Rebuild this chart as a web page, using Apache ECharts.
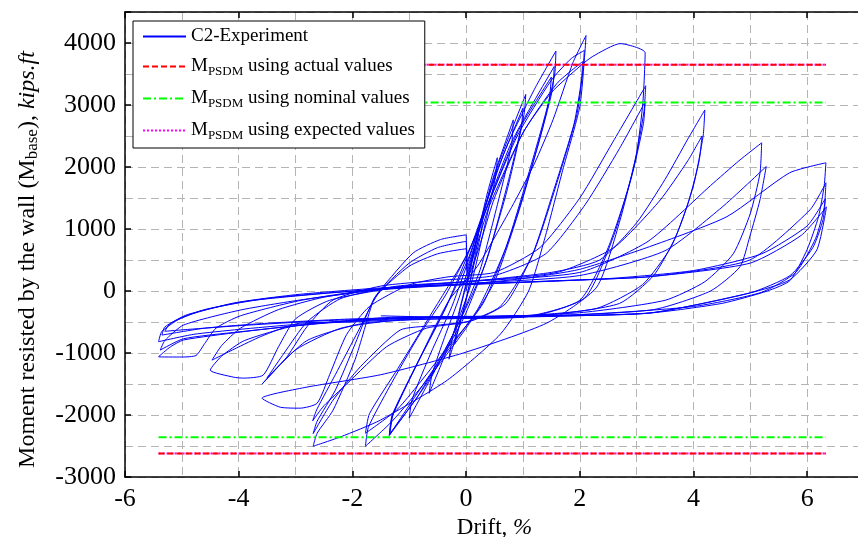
<!DOCTYPE html>
<html>
<head>
<meta charset="utf-8">
<script src="https://cdn.jsdelivr.net/npm/echarts@6/dist/echarts.min.js"></script>
<style>
  html, body { margin: 0; padding: 0; background: #fff; }
  #chart { width: 858px; height: 537px; }
</style>
</head>
<body>
<div id="chart"></div>
<script>
// drift (%) , moment (kips.ft), in loading order
var elasticLoops = [[0,0],[0.08,350],[0.16,700],[0.22,950],[0.2,780],[0.1,300],[0,-150],[-0.1,-500],[-0.2,-850],[-0.18,-650],[-0.08,-200],[0.02,150],
  [0.14,650],[0.3,1250],[0.27,980],[0.12,350],[-0.02,-200],[-0.15,-650],[-0.3,-1100],[-0.26,-850],[-0.1,-250],[0.02,200]];

var loopsTo105 = [[0.2,900],[0.38,1600],[0.55,2150],[0.52,1850],[0.34,1100],[0.1,150],[-0.15,-500],[-0.4,-1100],[-0.65,-1650],[-0.6,-1350],[-0.38,-750],[-0.12,-100],
  [0.15,700],[0.45,1750],[0.83,2760],[0.8,2350],[0.58,1500],[0.25,350],[-0.1,-450],[-0.5,-1200],[-1.0,-2050],[-0.95,-1750],[-0.62,-1000],[-0.25,-250],
  [0.1,650],[0.55,2000],[1.05,3170],[1.02,2850],[0.75,1800],[0.38,550],[-0.05,-450],[-0.7,-1500],[-1.35,-2330],[-1.3,-2030],[-0.9,-1250],[-0.4,-350],
  [0.05,550],[0.55,1950],[1.0,2950],[0.97,2620],[0.7,1550],[0.3,350],[-0.2,-650],[-0.85,-1700],[-1.34,-2300],[-1.28,-1980],[-0.85,-1150],[-0.35,-250]];

var loops158 = [[0.1,750],[0.7,2300],[1.2,3250],[1.58,3870],[1.56,3500],[1.35,2650],[0.95,1350],[0.5,150],[0.0,-600],[-0.7,-1450],[-1.3,-2100],[-1.77,-2504],[-1.72,-2200],[-1.35,-1550],[-0.85,-750],[-0.35,-50],
  [0.15,850],[0.8,2400],[1.55,3620],[1.52,3250],[1.25,2300],[0.8,950],[0.3,-200],[-0.4,-1000],[-1.2,-1900],[-1.77,-2294],[-1.7,-1980],[-1.2,-1250],[-0.6,-350],
  [0.05,650],[0.9,2550],[1.5,3450],[1.46,3080],[1.15,2050],[0.7,700],[0.2,-300],[-0.6,-1300],[-1.35,-2326],[-1.3,-2000],[-0.85,-1150],[-0.3,-150]];

var loops210 = [[0.2,400],[0.8,1350],[1.2,2050],[1.53,2763],[1.88,3683],[2.11,4120],[2.09,3845],[2.0,2973],[1.7,1950],[1.4,900],[1.1,0],[0.6,-700],[-0.33,-1438],[-1.51,-2084],[-2.2,-2350],[-2.69,-2504],[-2.62,-2294],[-2.34,-1922],[-1.95,-1100],[-1.63,-145],[-1.51,16],[-0.93,614],[-0.45,830],[0,905],[0.01,350],
  [0.35,1300],[0.9,2500],[1.5,3400],[1.85,3750],[2.08,3880],[2.06,3600],[1.95,2850],[1.6,1750],[1.2,650],[0.7,-200],[0.1,-480],[-0.6,-560],[-1.16,-630],[-1.86,-1222],[-2.34,-1761],[-2.69,-2300],[-2.62,-2100],[-2.3,-1600],[-1.95,-850],[-1.6,-100],[-1.0,450],[-0.5,700],[0,800],[0.02,300],
  [0.4,1350],[1.0,2550],[1.6,3350],[2.05,3700],[2.03,3400],[1.9,2700],[1.55,1650],[1.15,550],[0.6,-250],[0.0,-500],[-0.7,-600],[-1.4,-900],[-2.1,-1500],[-2.5,-1850],[-2.7,-2095],[-2.62,-1900],[-2.3,-1350],[-1.9,-650],[-1.55,-50],[-1.0,400],[-0.5,600],[0,680],[0.03,250]];

var loops315 = [[0.5,1500],[1.0,2550],[1.5,3200],[2.0,3623],[2.23,3785],[2.71,3990],[3.15,3840],[3.11,3037],[3.0,2230],[2.71,1147],[2.3,65],[1.42,-517],[-0.05,-1000],[-1.5,-1350],[-2.8,-1550],[-3.59,-1729],[-3.27,-1874],[-2.92,-1890],[-2.62,-1810],[-2.4,-1350],[-2.1,-700],[-1.7,-250],[-1.0,100],[-0.3,230],
  [0.5,300],[1.3,700],[2.0,1500],[2.58,2400],[3.16,3310],[3.13,2900],[2.95,2000],[2.6,900],[2.1,-100],[1.2,-400],[0,-440],[-1.2,-470],[-2.2,-600],[-3.0,-950],[-3.59,-1502],[-3.15,-1061],[-2.8,-577],[-2.34,-145],[-1.5,80],[-0.5,170],
  [0.5,250],[1.4,600],[2.1,1400],[2.7,2300],[3.15,3050],[3.12,2700],[2.9,1800],[2.5,700],[2.0,-150],[1.0,-420],[-0.5,-450],[-1.8,-520],[-2.8,-800],[-3.5,-1400],[-3.2,-1000],[-2.8,-500],[-2.2,-120],[-1.2,80]];

var loops420 = [[0,150],[1.5,300],[2.35,500],[3.0,1100],[3.5,1800],[3.9,2450],[4.2,2920],[4.17,2500],[4.0,1700],[3.7,900],[3.3,250],[2.7,-200],[1.5,-380],[0,-420],[-1.5,-450],[-3.0,-560],[-3.9,-800],[-4.3,-1050],[-4.5,-1276],[-4.09,-1390],[-3.92,-1405],[-3.57,-1357],[-3.3,-900],[-3.0,-450],[-2.4,-150],[-1.2,60],
  [0,150],[1.6,300],[2.6,700],[3.4,1450],[3.9,2100],[4.15,2500],[4.1,2100],[3.9,1400],[3.6,700],[3.1,100],[2.3,-280],[1,-400],[-0.5,-430],[-2,-500],[-2.92,-517],[-3.62,-738],[-4.47,-1115],[-4.3,-880],[-3.97,-600],[-3.3,-300],[-2.5,-100],[-1.3,60]];

var loops520 = [[0,150],[2,300],[3.2,800],[4.3,1700],[4.8,2100],[5.2,2390],[5.17,1900],[5.0,1250],[4.7,600],[4.2,150],[3.5,-150],[2,-350],[0,-420],[-1.16,-420],[-3,-560],[-3.97,-662],[-4.97,-790],[-5.2,-900],[-5.41,-1061],[-5.0,-1065],[-4.75,-1040],[-4.6,-850],[-4.4,-600],[-3.97,-400],[-2.9,-150],[-1.5,40],
  [0,120],[2,250],[3.5,650],[4.5,1350],[5.28,2008],[5.17,1470],[4.99,877],[4.82,393],[4.3,0],[3.3,-300],[1.5,-400],[-0.5,-420],[-2.5,-520],[-4,-660],[-4.97,-770],[-5.38,-953],[-5.3,-800],[-4.97,-549],[-3.97,-307],[-2.92,-145],[-1.5,20],[0,110]];

var loops630 = [[1,200],[2,350],[3.23,716],[4.59,1200],[5.69,1906],[6.33,2068],[6.3,1700],[6.2,1200],[6.0,670],[5.7,170],[5.3,0],[4.5,-200],[3.23,-355],[1,-420],[-1,-430],[-3,-540],[-4,-620],[-4.8,-700],[-5.41,-818],[-5.35,-650],[-4.97,-415],[-4.09,-194],[-3,-60],[-1.5,50],
  [0,110],[2,180],[3.23,231],[4.99,500],[6.05,1309],[6.33,1745],[6.3,1350],[6.15,850],[5.8,300],[5.2,-20],[4,-250],[2,-380],[0,-410],[-2,-450],[-3.5,-520],[-4.6,-600],[-5.35,-711],[-5.3,-580],[-4.9,-380],[-3.9,-170],[-2.5,-40],[-1,60],
  [0.5,120],[2.5,200],[4,330],[5.2,600],[6.0,1050],[6.32,1490],[6.28,1150],[6.1,700],[5.7,250],[5,-30],[3.23,-355],[1.5,-400],[-0.5,-420],[-2.5,-480],[-4,-560],[-4.9,-620],[-5.3,-650],[-5.2,-520],[-4.6,-300],[-3.5,-120],[-2,0],[-0.5,90],
  [1.5,160],[3.23,231],[5,450],[5.9,900],[6.34,1357],[6.17,662],[5.69,178],[4.99,-32],[3.23,-355],[1,-410],[-0.5,-420],[-1.5,-400]];

// M_PSDM levels
var refDrift = [-5.41, 6.33];
var actualLevels = [3650, -2620];
var nominalLevels = [3040, -2360];
var expectedLevels = [3650, -2620];

var serif = 'Liberation Serif';

var experiment = [].concat(elasticLoops, loopsTo105, loops158, loops210, loops315, loops420, loops520, loops630);

function levelLine(level) {
    return refDrift.map(function (d) { return [d, level]; });
}

function refSeries(name, levels, color, type, z) {
    return levels.map(function (lv) {
        return {
            name: name,
            type: 'line',
            data: levelLine(lv),
            symbol: 'none',
            z: z,
            lineStyle: { color: color, width: 2, type: type },
            itemStyle: { color: color },
            animation: false
        };
    });
}

var myChart = echarts.init(document.getElementById('chart'));

// helper axes: only their dashed split lines are shown
var gridAxisX = {
    type: 'value', min: -6, max: 7, interval: 1, position: 'bottom',
    axisLine: { show: false }, axisTick: { show: false }, axisLabel: { show: false },
    splitLine: { show: true, lineStyle: { color: '#b4b4b4', type: [8, 5], width: 1 } }
};
var gridAxisY = {
    type: 'value', min: -3000, max: 4500, interval: 500, position: 'left',
    axisLine: { show: false }, axisTick: { show: false }, axisLabel: { show: false },
    splitLine: { show: true, lineStyle: { color: '#b4b4b4', type: [8, 5], width: 1 } }
};

var option = {
    backgroundColor: '#fff',
    animation: false,
    grid: { left: 125, top: 12, width: 739, height: 465, outerBoundsMode: 'none', containLabel: false },
    legend: {
        orient: 'vertical',
        left: 133,
        top: 21,
        padding: [6, 10, 6, 9],
        itemGap: 11,
        itemWidth: 43,
        itemHeight: 14,
        backgroundColor: '#fff',
        borderColor: '#000',
        borderWidth: 1,
        borderRadius: 0,
        itemStyle: { opacity: 0, borderWidth: 0 },
        data: ['C2-Experiment', 'actual', 'nominal', 'expected'],
        formatter: function (name) {
            if (name === 'C2-Experiment') return name;
            return 'M{sub|PSDM} using ' + name + ' values';
        },
        textStyle: {
            fontFamily: serif, fontSize: 19, color: '#000',
            rich: {
                sub: { fontFamily: serif, fontSize: 13, color: '#000', padding: [10, 0, 0, 0] }
            }
        }
    },
    xAxis: [{
        type: 'value', min: -6, max: 7, interval: 2, position: 'bottom',
        name: 'Drift, {it|%}',
        nameLocation: 'middle',
        nameGap: 27,
        nameTextStyle: {
            fontFamily: serif, fontSize: 23, color: '#000',
            rich: { it: { fontFamily: serif, fontSize: 23, fontStyle: 'italic', color: '#000' } }
        },
        axisLine: { onZero: false, lineStyle: { color: '#000', width: 1.5 } },
        axisTick: { inside: true, length: 6, lineStyle: { color: '#000', width: 1.5 } },
        axisLabel: { fontFamily: serif, fontSize: 26, color: '#000', margin: 9, formatter: function (v) { return v > 6 ? '' : String(v); } },
        splitLine: { show: false }
    }, {
        type: 'value', min: -6, max: 7, interval: 2, position: 'top',
        axisLine: { onZero: false, lineStyle: { color: '#000', width: 1.5 } },
        axisTick: { inside: true, length: 6, lineStyle: { color: '#000', width: 1.5 } },
        axisLabel: { show: false },
        splitLine: { show: false }
    }, gridAxisX],
    yAxis: [{
        type: 'value', min: -3000, max: 4500, interval: 1000, position: 'left',
        name: 'Moment resisted by the wall (M{sub|base}), {it|kips.ft}',
        nameLocation: 'middle',
        nameGap: 84,
        nameTextStyle: {
            fontFamily: serif, fontSize: 24, color: '#000',
            padding: [0, 30, 0, 0],
            rich: {
                sub: { fontFamily: serif, fontSize: 17, color: '#000', padding: [10, 0, 0, 0] },
                it: { fontFamily: serif, fontSize: 24, fontStyle: 'italic', color: '#000' }
            }
        },
        axisLine: { onZero: false, lineStyle: { color: '#000', width: 1.5 } },
        axisTick: { inside: true, length: 6, lineStyle: { color: '#000', width: 1.5 } },
        axisLabel: { fontFamily: serif, fontSize: 26, color: '#000', margin: 9, formatter: function (v) { return v > 4000 ? '' : String(v); } },
        splitLine: { show: false }
    }, gridAxisY],
    series: [{
        name: 'C2-Experiment',
        type: 'line',
        data: experiment,
        symbol: 'none',
        smooth: 0.2,
        z: 1,
        lineStyle: { color: '#0000ff', width: 1 },
        itemStyle: { color: '#0000ff' },
        animation: false
    }].concat(
        refSeries('expected', expectedLevels, '#ff00ff', [2, 2], 2),
        refSeries('actual', actualLevels, '#ff0000', [6, 3], 3),
        refSeries('nominal', nominalLevels, '#00ff00', [8, 3, 2, 3], 3)
    )
};

myChart.setOption(option);
</script>
</body>
</html>
